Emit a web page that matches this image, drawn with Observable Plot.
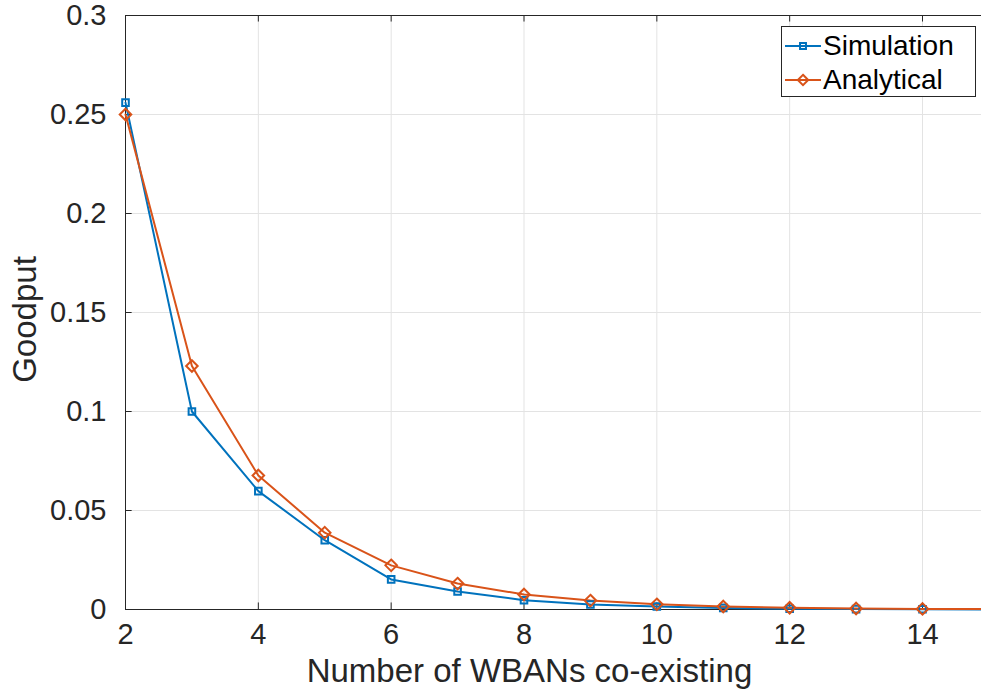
<!DOCTYPE html>
<html>
<head>
<meta charset="utf-8">
<script src="https://cdn.jsdelivr.net/npm/d3@7"></script>
<script src="https://cdn.jsdelivr.net/npm/@observablehq/plot@0.6"></script>
<style>
  html, body { margin: 0; padding: 0; background: #fff; }
  #wrap { position: relative; width: 981px; height: 699px; overflow: hidden; font-family: "Liberation Sans", Arial, sans-serif; }
  #legend { position: absolute; left: 781px; top: 26px; width: 195px; height: 71px; border: 1px solid #262626; background: #fff; font-size: 28px; color: #000; box-sizing: border-box; }
  #legend .row { position: absolute; left: 0; height: 34px; display: flex; align-items: center; }
  #legend .row span { margin-left: 0px; line-height: 34px; }
</style>
</head>
<body>
<div id="wrap"></div>
<script>
const nodes = [2, 3, 4, 5, 6, 7, 8, 9, 10, 11, 12, 13, 14, 15];
const simulation = [0.256, 0.100, 0.0598, 0.0350, 0.0152, 0.0091, 0.0047, 0.0025, 0.0015, 0.0008, 0.0004, 0.0002, 0.0001, 0.00005];
const analytical = [0.250, 0.123, 0.0677, 0.0388, 0.0223, 0.0131, 0.0076, 0.0045, 0.0026, 0.0015, 0.0009, 0.0005, 0.0003, 0.0002];
const xTicks = [2, 4, 6, 8, 10, 12, 14];
const yTicks = [0, 0.05, 0.1, 0.15, 0.2, 0.25, 0.3];
const yTickLabels = ["0", "0.05", "0.1", "0.15", "0.2", "0.25", "0.3"];
const seriesNames = ["Simulation", "Analytical"];
const seriesColors = ["#0072BD", "#D95319"];

const simData = nodes.map((n, i) => ({x: n, y: simulation[i]}));
const anaData = nodes.map((n, i) => ({x: n, y: analytical[i]}));

const W = 981, H = 699;
const mLeft = 125, mTop = 15, mBottomY = 609;
const xUnit = (922 - 125) / 12;

const chart = Plot.plot({
  width: W,
  height: H,
  marginLeft: mLeft,
  marginTop: mTop,
  marginBottom: H - mBottomY,
  marginRight: 0,
  style: {fontFamily: "Liberation Sans, Arial, sans-serif", fontSize: "29px", color: "#262626", overflow: "hidden"},
  x: {domain: [2, 15], range: [mLeft, mLeft + 13 * xUnit]},
  y: {domain: [0, 0.3]},
  marks: [
    Plot.gridX(xTicks, {stroke: "#e3e3e3", strokeOpacity: 1, strokeWidth: 1}),
    Plot.gridY(yTicks, {stroke: "#e3e3e3", strokeOpacity: 1, strokeWidth: 1}),
    Plot.ruleY([0.3], {stroke: "#262626", strokeWidth: 1}),
    Plot.ruleY([0], {stroke: "#262626", strokeWidth: 1}),
    Plot.ruleX([2], {stroke: "#262626", strokeWidth: 1}),
    Plot.axisX(xTicks, {tickSize: 0, tickPadding: 14, fontSize: 29, fill: "#262626", label: null}),
    Plot.ruleX(xTicks, {x: d => d, y1: 0, y2: 0.0033, stroke: "#262626"}),
    Plot.ruleX(xTicks, {x: d => d, y1: 0.2967, y2: 0.3, stroke: "#262626"}),
    Plot.axisY(yTicks, {tickSize: 0, tickPadding: 19, fontSize: 29, fill: "#262626", label: null, tickFormat: (d, i) => yTickLabels[i]}),
    Plot.ruleY(yTicks, {y: d => d, x1: 2, x2: 2.1, stroke: "#262626"}),
    Plot.line(simData, {x: "x", y: "y", stroke: seriesColors[0], strokeWidth: 2}),
    Plot.line(anaData, {x: "x", y: "y", stroke: seriesColors[1], strokeWidth: 2}),
    Plot.dot(simData, {x: "x", y: "y", symbol: "square2", r: 4.2, stroke: seriesColors[0], strokeWidth: 2, fill: "none"}),
    Plot.dot(anaData, {x: "x", y: "y", symbol: "diamond2", r: 5.2, stroke: seriesColors[1], strokeWidth: 2, fill: "none"}),
    Plot.text(["Number of WBANs co-existing"], {frameAnchor: "bottom", dx: -24, dy: 72, fontSize: 33, fill: "#262626", text: d => d}),
    Plot.text(["Goodput"], {frameAnchor: "left", textAnchor: "middle", dx: -100, dy: 7, rotate: -90, fontSize: 33, fill: "#262626", text: d => d})
  ]
});

const wrap = document.getElementById("wrap");
wrap.appendChild(chart);

// Legend
const legend = document.createElement("div");
legend.id = "legend";
const symbols = ["square2", "diamond2"];
const symSizes = [4.2, 5.2];
seriesNames.forEach((name, i) => {
  const row = document.createElement("div");
  row.className = "row";
  row.style.top = (2 + i * 34) + "px";
  const sw = d3.create("svg").attr("width", 41).attr("height", 34);
  sw.append("line").attr("x1", 3).attr("x2", 39).attr("y1", 17).attr("y2", 17)
    .attr("stroke", seriesColors[i]).attr("stroke-width", 2);
  const sym = symbols[i] === "square2" ? d3.symbolSquare2 : d3.symbolDiamond2;
  sw.append("path").attr("d", d3.symbol(sym, Math.pow(symSizes[i] * 1.6, 2))())
    .attr("transform", "translate(21,17)").attr("fill", "none")
    .attr("stroke", seriesColors[i]).attr("stroke-width", 2);
  row.appendChild(sw.node());
  const label = document.createElement("span");
  label.textContent = name;
  row.appendChild(label);
  legend.appendChild(row);
});
wrap.appendChild(legend);
</script>
</body>
</html>
